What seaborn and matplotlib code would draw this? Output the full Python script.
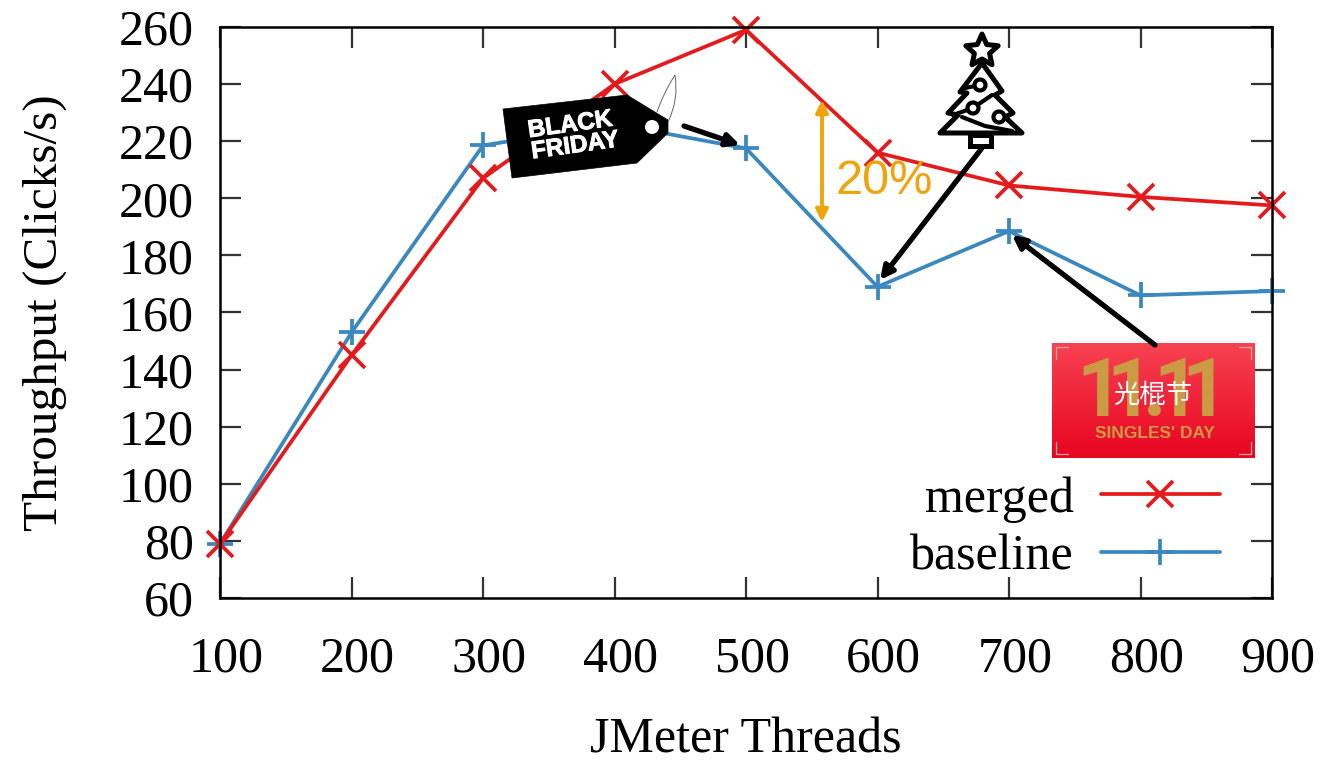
import matplotlib
matplotlib.use("Agg")
import matplotlib.pyplot as plt
import matplotlib.patheffects as pe
import matplotlib.transforms as mtransforms
import numpy as np
import pandas as pd
import seaborn as sns
from matplotlib.patches import Circle, PathPatch, Polygon, Rectangle
from matplotlib.path import Path

threads = [100, 200, 300, 400, 500, 600, 700, 800, 900]
merged = [79, 145, 207, 240, 259, 216, 204.5, 200.5, 197.5]
baseline = [79, 153, 218.5, 226, 217.5, 169, 188.5, 166, 167.5]
yticks = list(range(60, 261, 20))

RED = "#e41a1c"
BLUE = "#3a88bd"
ORANGE = "#f0a30a"
GOLD = "#cb9a45"

sns.set_theme(style="ticks")
plt.rcParams["font.family"] = ["Liberation Serif", "DejaVu Sans"]
plt.rcParams["text.color"] = "black"
plt.rcParams["axes.labelcolor"] = "black"

df = pd.DataFrame({
    "threads": threads * 2,
    "throughput": merged + baseline,
    "series": ["merged"] * len(threads) + ["baseline"] * len(threads),
})

W, H = 1341, 762
fig = plt.figure(figsize=(W / 100, H / 100), dpi=100)
ax = fig.add_axes([220 / W, 1 - 598 / H, (1272 - 220) / W, (598 - 27) / H])

sns.lineplot(
    data=df, x="threads", y="throughput", hue="series", style="series",
    hue_order=["baseline", "merged"], style_order=["baseline", "merged"],
    palette={"merged": RED, "baseline": BLUE},
    markers={"merged": "x", "baseline": "+"}, dashes=False,
    linewidth=2.7, markersize=19, clip_on=False, errorbar=None, ax=ax,
)

handles, labels = ax.get_legend_handles_labels()
for line in list(ax.lines) + list(handles):
    line.set_markeredgecolor(line.get_color())
    line.set_markeredgewidth(2.7)
    line.set_solid_capstyle("round")

ax.set_xlim(100, 900)
ax.set_ylim(60, 260)
ax.set_xticks(threads)
ax.set_yticks(yticks)
ax.tick_params(axis="both", direction="in", length=15, width=1.6, color="#333333",
               top=True, right=True, labelsize=36, labelcolor="black")
ax.tick_params(axis="x", pad=27)
ax.tick_params(axis="y", pad=19)
ax.set_xlabel("JMeter Threads", fontsize=36, labelpad=25)
ax.set_ylabel("Throughput (Clicks/s)", fontsize=35.5, labelpad=37)
for spine in ax.spines.values():
    spine.set_visible(True)
    spine.set_linewidth(1.8)
    spine.set_color("black")

# x tick labels sit a little right of their ticks in the original
shift = mtransforms.ScaledTranslation(6 / 100, 0, fig.dpi_scale_trans)
for lab in ax.get_xticklabels():
    lab.set_transform(lab.get_transform() + shift)

order = [labels.index("merged"), labels.index("baseline")]
ax.legend(
    [handles[i] for i in order], [labels[i] for i in order],
    loc="lower right", bbox_to_anchor=(0.9695, -0.004), frameon=False, markerfirst=False,
    fontsize=36, handlelength=2.38, handletextpad=0.54, labelspacing=0.22,
    borderaxespad=0.2, borderpad=0.2,
)

# overlay in image pixels for the pasted-on pictures and arrows
ov = fig.add_axes([0, 0, 1, 1], zorder=10)
ov.patch.set_alpha(0)
ov.axis("off")


def arrow(start, end, color="black", style="-|>", lw=3.8, scale=19):
    ov.annotate("", xy=end, xytext=start, arrowprops=dict(
        arrowstyle=style, color=color, lw=lw, mutation_scale=scale,
        shrinkA=0, shrinkB=0))


# Black Friday tag
tag = [(503, 109), (627, 95), (668, 120), (668, 133), (637, 163), (512, 178)]
ov.add_patch(Polygon(tag, closed=True, fc="black", ec="black", lw=0.5, zorder=3))
ov.add_patch(Circle((652, 127), 7, fc="white", ec="none", zorder=4))
thread1 = Path([(657, 112), (664, 92), (675, 75)], [Path.MOVETO, Path.CURVE3, Path.CURVE3])
thread2 = Path([(675, 75), (679, 100), (668, 122)], [Path.MOVETO, Path.CURVE3, Path.CURVE3])
for p in (thread1, thread2):
    ov.add_patch(PathPatch(p, fc="none", ec="#666666", lw=0.7, zorder=4))
for x, y, word in [(570, 125, "BLACK"), (575, 146, "FRIDAY")]:
    ov.text(x, y, word, family="Liberation Sans", weight="bold", color="white",
            fontsize=17.5, rotation=8, ha="center", va="center", zorder=5,
            path_effects=[pe.withStroke(linewidth=0.7, foreground="white")])
arrow((684, 126), (740, 145))

# 20% gap
arrow((822, 100), (822, 222), color=ORANGE, style="<|-|>", lw=2.8, scale=18)
ov.text(884, 182, "20%", family="Liberation Sans", color=ORANGE, fontsize=35,
        ha="center", va="center")

# Christmas tree
angles = np.deg2rad(np.arange(10) * 36 - 90)
radii = np.array([17, 8] * 5)
star = np.c_[982 + radii * np.cos(angles), 51 + radii * np.sin(angles)]
ov.add_patch(Polygon(star, closed=True, fc="white", ec="black", lw=3.6, joinstyle="round"))
outline = [(982, 63), (1002, 91), (995, 95), (1013, 113), (1005, 117), (1022, 133),
           (940, 133), (958, 115), (948, 113), (967, 93), (960, 92)]
ov.add_patch(Polygon(outline, closed=True, fc="white", ec="black", lw=3.6, joinstyle="round"))
ov.add_patch(Rectangle((970, 135), 21, 11, fc="white", ec="black", lw=3.6))
ov.plot([965, 980], [88, 85], color="black", lw=3)
ov.plot([953, 973, 992], [115, 108, 95], color="black", lw=3)
ov.plot([962, 985, 1012], [117, 126, 131], color="black", lw=3)
for cx, cy in [(980, 85), (973, 108), (999, 117)]:
    ov.add_patch(Circle((cx, cy), 5.5, fc="white", ec="black", lw=3, zorder=4))
arrow((982, 148), (880, 280))

# 11.11 banner
grad = np.linspace(0, 1, 64)[:, None, None]
top = np.array([0.97, 0.26, 0.32])
bottom = np.array([0.91, 0.02, 0.13])
ov.imshow(top + (bottom - top) * grad, extent=(1052, 1255, 458, 343), aspect="auto", zorder=1)
for x, t in zip([1099, 1129, 1155, 1176, 1204], "11.11"):
    ov.text(x, 394, t, family="Roboto", weight="bold", color=GOLD, fontsize=58,
            ha="center", va="center", zorder=2)
ov.text(1153, 395, "光棍节", family="Noto Sans CJK SC", color="white", fontsize=19,
        ha="center", va="center", zorder=3)
ov.text(1155, 433, "SINGLES' DAY", family="Liberation Sans", weight="bold", color=GOLD,
        fontsize=12.5, ha="center", va="center", zorder=3)
for sx, x0 in [(1, 1056), (-1, 1251)]:
    for sy, y0 in [(1, 347), (-1, 454)]:
        ov.plot([x0 + sx * 12, x0, x0], [y0, y0, y0 + sy * 12], color="#f2a7a0", lw=0.9, zorder=2)
arrow((1155, 345), (1012, 235))

ov.set_xlim(0, W)
ov.set_ylim(H, 0)

fig.savefig("out.png", dpi=100)
